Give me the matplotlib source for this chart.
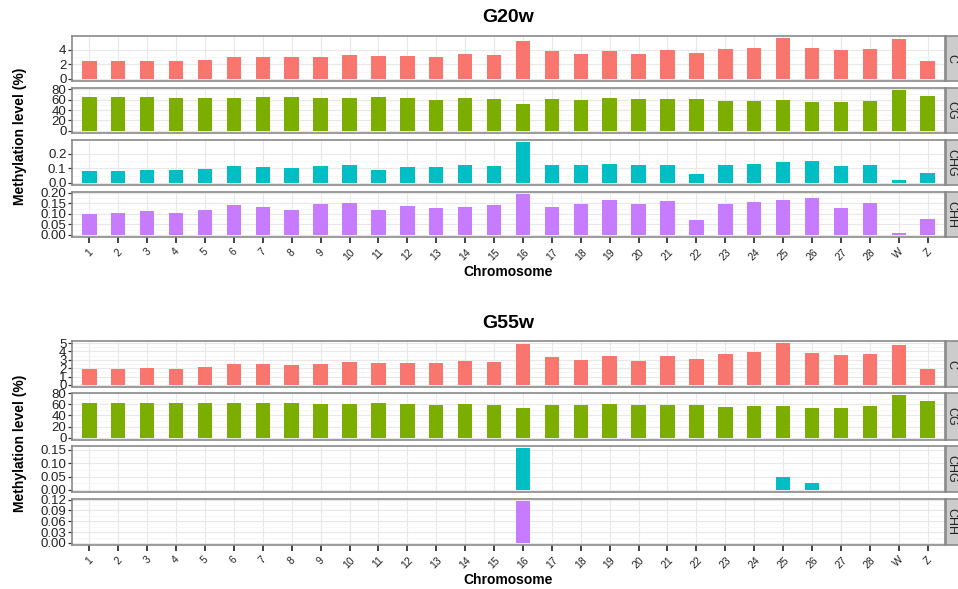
import numpy as np
import matplotlib
matplotlib.use("Agg")
import matplotlib.pyplot as plt

plt.rcParams['font.family'] = ['Liberation Sans', 'DejaVu Sans']

# chromosomes on the x axis
chromosomes = [str(i) for i in range(1, 29)] + ['W', 'Z']
contexts = ['C', 'CG', 'CHG', 'CHH']
colors = ['#F8766D', '#7CAE00', '#00BFC4', '#C77CFF']

# G20w
g20_c = [2.49, 2.44, 2.53, 2.49, 2.67, 2.98, 2.98, 2.98, 3.02, 3.24, 3.16, 3.11, 3.07, 3.38,
         3.24, 5.24, 3.82, 3.42, 3.87, 3.38, 4.00, 3.64, 4.13, 4.31, 5.64, 4.22, 4.04, 4.09,
         5.56, 2.49]
g20_cg = [64.1, 64.1, 64.1, 63.5, 63.5, 63.5, 64.7, 64.1, 62.3, 62.9, 64.1, 62.3, 59.8, 62.3,
          61.1, 51.9, 61.1, 59.8, 62.9, 60.5, 60.5, 61.1, 56.8, 58.0, 59.8, 56.2, 54.4, 56.8,
          78.2, 66.6]
g20_chg = [0.084, 0.084, 0.087, 0.087, 0.098, 0.118, 0.111, 0.102, 0.118, 0.124, 0.087, 0.111,
           0.111, 0.120, 0.118, 0.280, 0.124, 0.122, 0.131, 0.124, 0.124, 0.062, 0.122, 0.131,
           0.142, 0.153, 0.113, 0.122, 0.018, 0.069]
g20_chh = [0.102, 0.105, 0.112, 0.106, 0.120, 0.143, 0.135, 0.118, 0.148, 0.154, 0.118, 0.138,
           0.129, 0.135, 0.145, 0.195, 0.134, 0.149, 0.165, 0.149, 0.163, 0.069, 0.146, 0.157,
           0.169, 0.175, 0.129, 0.151, 0.008, 0.078]

# G55w
g55_c = [1.92, 1.92, 2.00, 1.96, 2.15, 2.46, 2.46, 2.42, 2.54, 2.73, 2.62, 2.65, 2.62, 2.88,
         2.77, 4.92, 3.35, 2.92, 3.42, 2.85, 3.50, 3.04, 3.73, 3.88, 5.00, 3.85, 3.62, 3.65,
         4.77, 1.96]
g55_cg = [63.2, 63.2, 63.2, 62.0, 62.0, 62.6, 63.2, 62.6, 60.8, 61.4, 63.2, 60.8, 58.3, 61.4,
          59.5, 53.5, 59.5, 58.9, 60.8, 58.9, 58.9, 58.9, 55.3, 57.1, 57.7, 54.1, 54.1, 56.5,
          76.4, 65.6]
g55_chg = [0] * 15 + [0.157] + [0] * 8 + [0.048, 0.025] + [0] * 4
g55_chh = [0] * 15 + [0.116] + [0] * 14

g20_ticks = [[0, 2, 4], [0, 20, 40, 60, 80], [0.0, 0.1, 0.2], [0.00, 0.05, 0.10, 0.15, 0.20]]
g20_labels = [['0', '2', '4'], ['0', '20', '40', '60', '80'], ['0.0', '0.1', '0.2'],
              ['0.00', '0.05', '0.10', '0.15', '0.20']]
g55_ticks = [[0, 1, 2, 3, 4, 5], [0, 20, 40, 60, 80], [0.00, 0.05, 0.10, 0.15],
             [0.00, 0.03, 0.06, 0.09, 0.12]]
g55_labels = [['0', '1', '2', '3', '4', '5'], ['0', '20', '40', '60', '80'],
              ['0.00', '0.05', '0.10', '0.15'], ['0.00', '0.03', '0.06', '0.09', '0.12']]

W, H = 958, 589
fig = plt.figure(figsize=(W / 100, H / 100), dpi=100)

def px_axes(x0, y0, x1, y1):
    # pixel box (top-left origin) -> figure axes
    return fig.add_axes([x0 / W, (H - y1) / H, (x1 - x0) / W, (y1 - y0) / H])

def draw_block(title, series, ticks, labels, rows, title_y, xlab_y):
    x = np.arange(len(chromosomes))
    for k, (vals, (y0, y1)) in enumerate(zip(series, rows)):
        ax = px_axes(72, y0, 945, y1)
        vals = np.array(vals, dtype=float)
        ax.bar(x, vals, width=0.5, color=colors[k], linewidth=0, zorder=3)
        vmax = vals.max()
        ax.set_ylim(-0.05 * vmax, vmax * 1.05)
        ax.set_xlim(-0.6, len(chromosomes) - 0.4)
        ax.set_yticks(ticks[k])
        ax.set_yticklabels(labels[k])
        mt = np.array(ticks[k])
        minor = (mt[:-1] + mt[1:]) / 2
        ax.set_yticks(minor, minor=True)
        ax.set_xticks(x)
        ax.grid(True, which='major', color='#E8E8E8', linewidth=0.8, zorder=0)
        ax.grid(True, which='minor', axis='y', color='#F5F5F5', linewidth=0.6, zorder=0)
        ax.set_axisbelow(True)
        ax.tick_params(axis='y', which='minor', length=0)
        ax.tick_params(axis='both', which='major', length=3, width=0.9, color='#333333',
                       labelsize=9.5, labelcolor='#222222', pad=1)
        for s in ax.spines.values():
            s.set_color('#8A8A8A')
            s.set_linewidth(1.2)
        if k == 3:
            ax.set_xticklabels(chromosomes, rotation=45, ha='center', va='top', fontsize=7.5)
            ax.tick_params(axis='x', length=4, width=1.2, color='#222222', pad=3)
        else:
            ax.set_xticklabels([])
            ax.tick_params(axis='x', length=0)
        # facet strip on the right
        sax = px_axes(946, y0, 964, y1)
        sax.set_xticks([])
        sax.set_yticks([])
        sax.set_facecolor('#CCCCCC')
        for s in sax.spines.values():
            s.set_color('#8A8A8A')
            s.set_linewidth(1.2)
        sax.text(0.32, 0.5, contexts[k], rotation=-90, ha='center', va='center',
                 fontsize=9, color='#222222', transform=sax.transAxes)
    fig.text(508 / W, 1 - title_y / H, title, ha='center', va='center',
             fontsize=14, fontweight='bold')
    fig.text(508 / W, 1 - xlab_y / H, 'Chromosome', ha='center', va='center',
             fontsize=10, fontweight='bold')
    ymid = (rows[0][0] + rows[-1][1]) / 2
    fig.text(20 / W, 1 - ymid / H, 'Methylation level (%)', rotation=90, ha='center',
             va='center', fontsize=10, fontweight='bold')

draw_block('G20w', [g20_c, g20_cg, g20_chg, g20_chh], g20_ticks, g20_labels,
           [(36, 81), (88, 133), (140, 185), (192, 237)], 18, 272)
draw_block('G55w', [g55_c, g55_cg, g55_chg, g55_chh], g55_ticks, g55_labels,
           [(341, 387), (393, 440), (446, 492), (499, 545)], 323, 580)

fig.savefig('out.png', dpi=100)
